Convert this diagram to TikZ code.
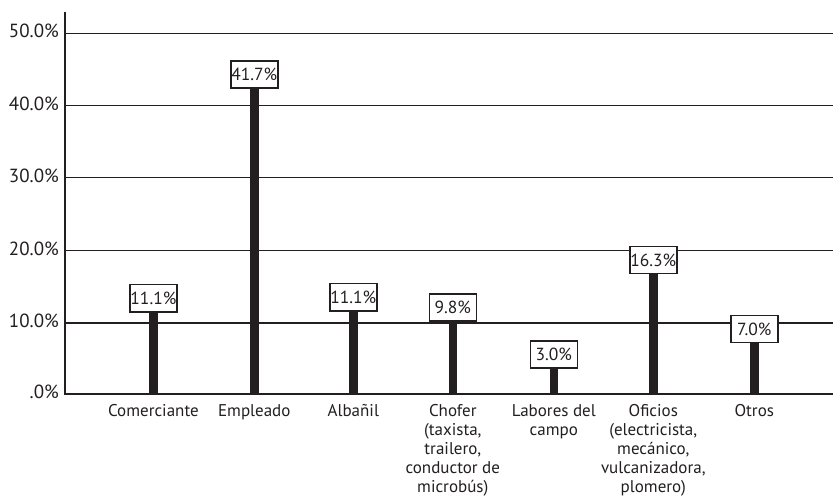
\documentclass[tikz,border=0pt]{standalone}
\usepackage{fontspec}
\setmainfont{PT Sans}
\definecolor{ink}{HTML}{231F20}
\begin{document}
\begin{tikzpicture}[x=1pt,y=-1pt,
  grid/.style={line width=1.4pt,draw=ink},
  axislbl/.style={anchor=east,text=ink,font=\fontsize{19}{22}\selectfont,inner sep=0pt},
  bar/.style={fill=ink,draw=none},
  valbox/.style={draw=ink,fill=white,line width=1.6pt,minimum width=47pt,minimum height=27pt,inner sep=0pt,anchor=south,text=ink,font=\fontsize{17.5}{20}\selectfont},
  catlbl/.style={anchor=north,align=center,text=ink,font=\fontsize{17}{19}\selectfont,inner sep=0pt}]
\useasboundingbox (0,0) rectangle (833,497);
% gridlines
\foreach \yy in {33.3,105.7,177.5,250.7,323} \draw[grid] (65,\yy) -- (833,\yy);
\draw[line width=2pt,draw=ink] (65,393.5) -- (833,393.5);
\draw[line width=2pt,draw=ink] (65,12) -- (65,394.5);
% axis labels
\node[axislbl] (l50) at (59,31.3) {50.0\%};
\node[axislbl] (l40) at (59,103.7) {40.0\%};
\node[axislbl] (l30) at (59,175.5) {30.0\%};
\node[axislbl] (l20) at (59,248.7) {20.0\%};
\node[axislbl] (l10) at (59,321) {10.0\%};
\node[axislbl] (l0) at (59,392) {.0\%};
% bars
\foreach \cx/\top/\v/\nm in {153.4/312.5/11.1/a, 254.3/89/41.7/b, 353.3/311.5/11.1/c, 452.8/321.7/9.8/d, 553.8/369/3.0/e, 653.3/274.3/16.3/f, 754.3/343.3/7.0/g}{
  \fill[bar] (\cx-4.2,394) rectangle (\cx+4.2,\top);
  \node[valbox] (v\nm) at (\cx,\top) {\v\%};
}
% category labels
\node[catlbl] (ca) at (153.4,404.5) {Comerciante};
\node[catlbl] (cb) at (254.3,404.5) {Empleado};
\node[catlbl] (cc) at (353.3,404.5) {Albañil};
\node[catlbl] (cd) at (452.8,404.5) {Chofer\\(taxista,\\trailero,\\conductor de\\microbús)};
\node[catlbl] (ce) at (553.8,404.5) {Labores del\\campo};
\node[catlbl] (cf) at (653.3,404.5) {Oficios\\(electricista,\\mecánico,\\vulcanizadora,\\plomero)};
\node[catlbl] (cg) at (754.3,404.5) {Otros};
\end{tikzpicture}
\end{document}
